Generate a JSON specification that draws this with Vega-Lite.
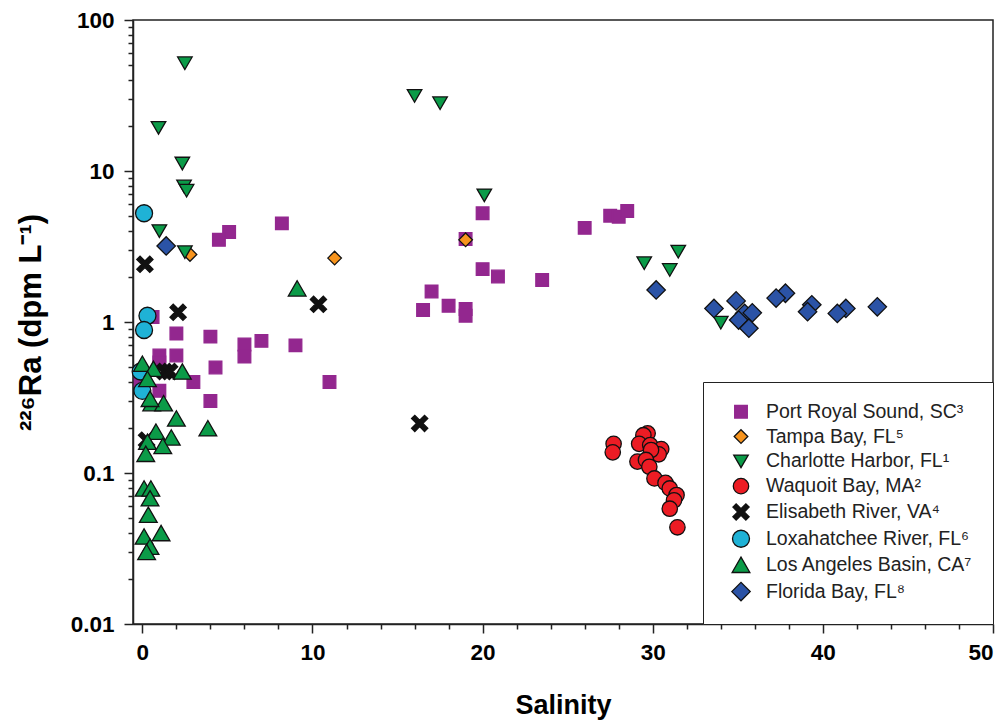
{
  "$schema": "https://vega.github.io/schema/vega-lite/v6.json",
  "width": 860,
  "height": 604,
  "autosize": "none",
  "padding": {"left": 133, "top": 20, "right": 15, "bottom": 97},
  "background": "white",
  "config": {
    "font": "Liberation Sans",
    "view": {"stroke": "#222", "strokeWidth": 1.5},
    "axis": {"domainColor": "#222", "domainWidth": 1.5, "tickColor": "#222", "tickWidth": 1.5, "grid": false,
      "labelFont": "Liberation Sans", "labelFontWeight": "bold", "labelFontSize": 22.5, "labelColor": "black",
      "titleFont": "Liberation Sans", "titleFontWeight": "bold", "titleColor": "black", "labelOverlap": false}
  },
  "data": {"values": [
    {"site": "Port Royal Sound, SC³", "salinity": 8.2, "ra": 4.5},
    {"site": "Port Royal Sound, SC³", "salinity": 5.1, "ra": 3.95},
    {"site": "Port Royal Sound, SC³", "salinity": 4.5, "ra": 3.5},
    {"site": "Port Royal Sound, SC³", "salinity": 4.0, "ra": 0.8},
    {"site": "Port Royal Sound, SC³", "salinity": 6.0, "ra": 0.71},
    {"site": "Port Royal Sound, SC³", "salinity": 6.0, "ra": 0.59},
    {"site": "Port Royal Sound, SC³", "salinity": 7.0, "ra": 0.75},
    {"site": "Port Royal Sound, SC³", "salinity": 9.0, "ra": 0.7},
    {"site": "Port Royal Sound, SC³", "salinity": 4.3, "ra": 0.5},
    {"site": "Port Royal Sound, SC³", "salinity": 3.0, "ra": 0.4},
    {"site": "Port Royal Sound, SC³", "salinity": 11.0, "ra": 0.4},
    {"site": "Port Royal Sound, SC³", "salinity": 4.0, "ra": 0.3},
    {"site": "Port Royal Sound, SC³", "salinity": 2.0, "ra": 0.84},
    {"site": "Port Royal Sound, SC³", "salinity": 2.0, "ra": 0.6},
    {"site": "Port Royal Sound, SC³", "salinity": 1.0, "ra": 0.6},
    {"site": "Port Royal Sound, SC³", "salinity": 1.0, "ra": 0.54},
    {"site": "Port Royal Sound, SC³", "salinity": 1.0, "ra": 0.35},
    {"site": "Port Royal Sound, SC³", "salinity": -0.1, "ra": 0.41},
    {"site": "Port Royal Sound, SC³", "salinity": 0.6, "ra": 1.08},
    {"site": "Port Royal Sound, SC³", "salinity": 20.0, "ra": 5.25},
    {"site": "Port Royal Sound, SC³", "salinity": 19.0, "ra": 3.55},
    {"site": "Port Royal Sound, SC³", "salinity": 20.0, "ra": 2.24},
    {"site": "Port Royal Sound, SC³", "salinity": 20.9, "ra": 2.0},
    {"site": "Port Royal Sound, SC³", "salinity": 23.5, "ra": 1.9},
    {"site": "Port Royal Sound, SC³", "salinity": 17.0, "ra": 1.59},
    {"site": "Port Royal Sound, SC³", "salinity": 16.5, "ra": 1.2},
    {"site": "Port Royal Sound, SC³", "salinity": 18.0, "ra": 1.28},
    {"site": "Port Royal Sound, SC³", "salinity": 19.0, "ra": 1.22},
    {"site": "Port Royal Sound, SC³", "salinity": 19.0, "ra": 1.1},
    {"site": "Port Royal Sound, SC³", "salinity": 26.0, "ra": 4.2},
    {"site": "Port Royal Sound, SC³", "salinity": 27.5, "ra": 5.06},
    {"site": "Port Royal Sound, SC³", "salinity": 28.0, "ra": 4.98},
    {"site": "Port Royal Sound, SC³", "salinity": 28.5, "ra": 5.43},
    {"site": "Tampa Bay, FL⁵", "salinity": 2.8, "ra": 2.8},
    {"site": "Tampa Bay, FL⁵", "salinity": 11.3, "ra": 2.65},
    {"site": "Tampa Bay, FL⁵", "salinity": 19.0, "ra": 3.5},
    {"site": "Charlotte Harbor, FL¹", "salinity": 2.5, "ra": 51.7},
    {"site": "Charlotte Harbor, FL¹", "salinity": 0.95, "ra": 19.3},
    {"site": "Charlotte Harbor, FL¹", "salinity": 2.35, "ra": 11.2},
    {"site": "Charlotte Harbor, FL¹", "salinity": 2.45, "ra": 7.9},
    {"site": "Charlotte Harbor, FL¹", "salinity": 2.6, "ra": 7.4},
    {"site": "Charlotte Harbor, FL¹", "salinity": 1.0, "ra": 4.0},
    {"site": "Charlotte Harbor, FL¹", "salinity": 2.5, "ra": 2.9},
    {"site": "Charlotte Harbor, FL¹", "salinity": 16.0, "ra": 31.4},
    {"site": "Charlotte Harbor, FL¹", "salinity": 17.5, "ra": 28.1},
    {"site": "Charlotte Harbor, FL¹", "salinity": 20.1, "ra": 6.9},
    {"site": "Charlotte Harbor, FL¹", "salinity": 29.5, "ra": 2.45},
    {"site": "Charlotte Harbor, FL¹", "salinity": 31.5, "ra": 2.92},
    {"site": "Charlotte Harbor, FL¹", "salinity": 31.0, "ra": 2.21},
    {"site": "Charlotte Harbor, FL¹", "salinity": 34.0, "ra": 0.99},
    {"site": "Waquoit Bay, MA²", "salinity": 27.7, "ra": 0.156},
    {"site": "Waquoit Bay, MA²", "salinity": 27.65, "ra": 0.137},
    {"site": "Waquoit Bay, MA²", "salinity": 29.7, "ra": 0.183},
    {"site": "Waquoit Bay, MA²", "salinity": 29.45, "ra": 0.178},
    {"site": "Waquoit Bay, MA²", "salinity": 29.2, "ra": 0.156},
    {"site": "Waquoit Bay, MA²", "salinity": 29.85, "ra": 0.153},
    {"site": "Waquoit Bay, MA²", "salinity": 30.5, "ra": 0.144},
    {"site": "Waquoit Bay, MA²", "salinity": 30.35, "ra": 0.133},
    {"site": "Waquoit Bay, MA²", "salinity": 29.9, "ra": 0.142},
    {"site": "Waquoit Bay, MA²", "salinity": 29.1, "ra": 0.119},
    {"site": "Waquoit Bay, MA²", "salinity": 29.6, "ra": 0.122},
    {"site": "Waquoit Bay, MA²", "salinity": 29.8, "ra": 0.11},
    {"site": "Waquoit Bay, MA²", "salinity": 30.1, "ra": 0.092},
    {"site": "Waquoit Bay, MA²", "salinity": 30.75, "ra": 0.086},
    {"site": "Waquoit Bay, MA²", "salinity": 31.0, "ra": 0.079},
    {"site": "Waquoit Bay, MA²", "salinity": 31.4, "ra": 0.0715},
    {"site": "Waquoit Bay, MA²", "salinity": 31.25, "ra": 0.066},
    {"site": "Waquoit Bay, MA²", "salinity": 31.0, "ra": 0.058},
    {"site": "Waquoit Bay, MA²", "salinity": 31.45, "ra": 0.0437},
    {"site": "Elisabeth River, VA⁴", "salinity": 0.15, "ra": 2.41},
    {"site": "Elisabeth River, VA⁴", "salinity": 2.1, "ra": 1.16},
    {"site": "Elisabeth River, VA⁴", "salinity": 10.35, "ra": 1.31},
    {"site": "Elisabeth River, VA⁴", "salinity": 16.3, "ra": 0.213},
    {"site": "Elisabeth River, VA⁴", "salinity": 1.3, "ra": 0.47},
    {"site": "Elisabeth River, VA⁴", "salinity": 1.6, "ra": 0.47},
    {"site": "Elisabeth River, VA⁴", "salinity": 0.25, "ra": 0.165},
    {"site": "Loxahatchee River, FL⁶", "salinity": 0.1, "ra": 5.25},
    {"site": "Loxahatchee River, FL⁶", "salinity": 0.3, "ra": 1.1},
    {"site": "Loxahatchee River, FL⁶", "salinity": 0.1, "ra": 0.885},
    {"site": "Loxahatchee River, FL⁶", "salinity": -0.1, "ra": 0.47},
    {"site": "Loxahatchee River, FL⁶", "salinity": 0.0, "ra": 0.35},
    {"site": "Los Angeles Basin, CA⁷", "salinity": 9.1, "ra": 1.67},
    {"site": "Los Angeles Basin, CA⁷", "salinity": 0.0, "ra": 0.53},
    {"site": "Los Angeles Basin, CA⁷", "salinity": 0.65, "ra": 0.49},
    {"site": "Los Angeles Basin, CA⁷", "salinity": 0.3, "ra": 0.42},
    {"site": "Los Angeles Basin, CA⁷", "salinity": 2.35, "ra": 0.47},
    {"site": "Los Angeles Basin, CA⁷", "salinity": 0.55, "ra": 0.29},
    {"site": "Los Angeles Basin, CA⁷", "salinity": 1.25, "ra": 0.29},
    {"site": "Los Angeles Basin, CA⁷", "salinity": 0.45, "ra": 0.31},
    {"site": "Los Angeles Basin, CA⁷", "salinity": 2.0, "ra": 0.23},
    {"site": "Los Angeles Basin, CA⁷", "salinity": 3.85, "ra": 0.198},
    {"site": "Los Angeles Basin, CA⁷", "salinity": 0.8, "ra": 0.188},
    {"site": "Los Angeles Basin, CA⁷", "salinity": 1.7, "ra": 0.172},
    {"site": "Los Angeles Basin, CA⁷", "salinity": 0.3, "ra": 0.161},
    {"site": "Los Angeles Basin, CA⁷", "salinity": 1.2, "ra": 0.151},
    {"site": "Los Angeles Basin, CA⁷", "salinity": 0.2, "ra": 0.134},
    {"site": "Los Angeles Basin, CA⁷", "salinity": 0.1, "ra": 0.079},
    {"site": "Los Angeles Basin, CA⁷", "salinity": 0.5, "ra": 0.079},
    {"site": "Los Angeles Basin, CA⁷", "salinity": 0.45, "ra": 0.068},
    {"site": "Los Angeles Basin, CA⁷", "salinity": 0.35, "ra": 0.053},
    {"site": "Los Angeles Basin, CA⁷", "salinity": 0.1, "ra": 0.038},
    {"site": "Los Angeles Basin, CA⁷", "salinity": 1.1, "ra": 0.04},
    {"site": "Los Angeles Basin, CA⁷", "salinity": 0.45, "ra": 0.0325},
    {"site": "Los Angeles Basin, CA⁷", "salinity": 0.25, "ra": 0.03},
    {"site": "Florida Bay, FL⁸", "salinity": 1.4, "ra": 3.19},
    {"site": "Florida Bay, FL⁸", "salinity": 30.2, "ra": 1.63},
    {"site": "Florida Bay, FL⁸", "salinity": 33.6, "ra": 1.23},
    {"site": "Florida Bay, FL⁸", "salinity": 34.9, "ra": 1.38},
    {"site": "Florida Bay, FL⁸", "salinity": 35.4, "ra": 1.14},
    {"site": "Florida Bay, FL⁸", "salinity": 35.85, "ra": 1.15},
    {"site": "Florida Bay, FL⁸", "salinity": 35.05, "ra": 1.03},
    {"site": "Florida Bay, FL⁸", "salinity": 35.65, "ra": 0.91},
    {"site": "Florida Bay, FL⁸", "salinity": 37.8, "ra": 1.55},
    {"site": "Florida Bay, FL⁸", "salinity": 37.25, "ra": 1.44},
    {"site": "Florida Bay, FL⁸", "salinity": 39.35, "ra": 1.3},
    {"site": "Florida Bay, FL⁸", "salinity": 39.1, "ra": 1.17},
    {"site": "Florida Bay, FL⁸", "salinity": 41.35, "ra": 1.23},
    {"site": "Florida Bay, FL⁸", "salinity": 40.85, "ra": 1.14},
    {"site": "Florida Bay, FL⁸", "salinity": 43.2, "ra": 1.26}
  ]},
  "mark": {"type": "point", "filled": true, "opacity": 1, "strokeWidth": 1.3},
  "encoding": {
    "x": {"field": "salinity", "type": "quantitative",
      "scale": {"domain": [-0.55, 50], "nice": false, "zero": false},
      "axis": {"title": "Salinity", "titleFontSize": 27, "titlePadding": 29,
        "values": [0, 2, 4, 6, 8, 10, 12, 14, 16, 18, 20, 22, 24, 26, 28, 30, 32, 34, 36, 38, 40, 42, 44, 46, 48, 50],
        "tickSize": {"condition": {"test": "datum.value % 10 == 0", "value": 9}, "value": 5},
        "labelExpr": "datum.value % 10 == 0 ? datum.label : ''", "labelPadding": 8}},
    "y": {"field": "ra", "type": "quantitative",
      "scale": {"type": "log", "domain": [0.01, 100], "nice": false},
      "axis": {"title": "²²⁶Ra (dpm L⁻¹)", "titleFontSize": 31, "titleX": -93, "titleY": 302, "titleAlign": "center", "titleBaseline": "alphabetic", "titleAngle": -90,
        "values": [0.01, 0.02, 0.03, 0.04, 0.05, 0.06, 0.07, 0.08, 0.09, 0.1, 0.2, 0.3, 0.4, 0.5, 0.6, 0.7, 0.8, 0.9, 1, 2, 3, 4, 5, 6, 7, 8, 9, 10, 20, 30, 40, 50, 60, 70, 80, 90, 100],
        "tickSize": {"condition": {"test": "abs(log(datum.value)/LN10 - round(log(datum.value)/LN10)) < 0.000001", "value": 9}, "value": 5},
        "labelExpr": "abs(log(datum.value)/LN10 - round(log(datum.value)/LN10)) < 0.000001 ? '' + datum.value : ''", "labelPadding": 10}},
    "fill": {"field": "site", "type": "nominal",
      "scale": {"domain": ["Port Royal Sound, SC³", "Tampa Bay, FL⁵", "Charlotte Harbor, FL¹", "Waquoit Bay, MA²", "Elisabeth River, VA⁴", "Loxahatchee River, FL⁶", "Los Angeles Basin, CA⁷", "Florida Bay, FL⁸"],
        "range": ["#93278f", "#f7941d", "#0b9b48", "#ec1c24", "#111111", "#1fb2d6", "#0b9b48", "#2b53a6"]},
      "legend": {"title": null, "orient": "bottom-right", "offset": 0, "padding": 20, "strokeColor": "#222", "fillColor": "white",
        "labelFont": "Liberation Sans", "labelFontSize": 19.5, "labelColor": "#222", "rowPadding": 3.8, "symbolOffset": 8, "labelOffset": 15, "labelLimit": 300, "symbolStrokeWidth": 1.3}},
    "stroke": {"field": "site", "type": "nominal",
      "scale": {"domain": ["Port Royal Sound, SC³", "Tampa Bay, FL⁵", "Charlotte Harbor, FL¹", "Waquoit Bay, MA²", "Elisabeth River, VA⁴", "Loxahatchee River, FL⁶", "Los Angeles Basin, CA⁷", "Florida Bay, FL⁸"],
        "range": ["#93278f", "#111111", "#111111", "#111111", "#111111", "#111111", "#111111", "#111111"]}},
    "shape": {"field": "site", "type": "nominal",
      "scale": {"domain": ["Port Royal Sound, SC³", "Tampa Bay, FL⁵", "Charlotte Harbor, FL¹", "Waquoit Bay, MA²", "Elisabeth River, VA⁴", "Loxahatchee River, FL⁶", "Los Angeles Basin, CA⁷", "Florida Bay, FL⁸"],
        "range": ["square", "diamond", "triangle-down", "circle", "M-1,-0.6L-0.6,-1L0,-0.4L0.6,-1L1,-0.6L0.4,0L1,0.6L0.6,1L0,0.4L-0.6,1L-1,0.6L-0.4,0Z", "circle", "triangle-up", "diamond"]}},
    "size": {"field": "site", "type": "nominal",
      "scale": {"domain": ["Port Royal Sound, SC³", "Tampa Bay, FL⁵", "Charlotte Harbor, FL¹", "Waquoit Bay, MA²", "Elisabeth River, VA⁴", "Loxahatchee River, FL⁶", "Los Angeles Basin, CA⁷", "Florida Bay, FL⁸"],
        "range": [160, 340, 330, 270, 110, 270, 300, 380]}}
  }
}
